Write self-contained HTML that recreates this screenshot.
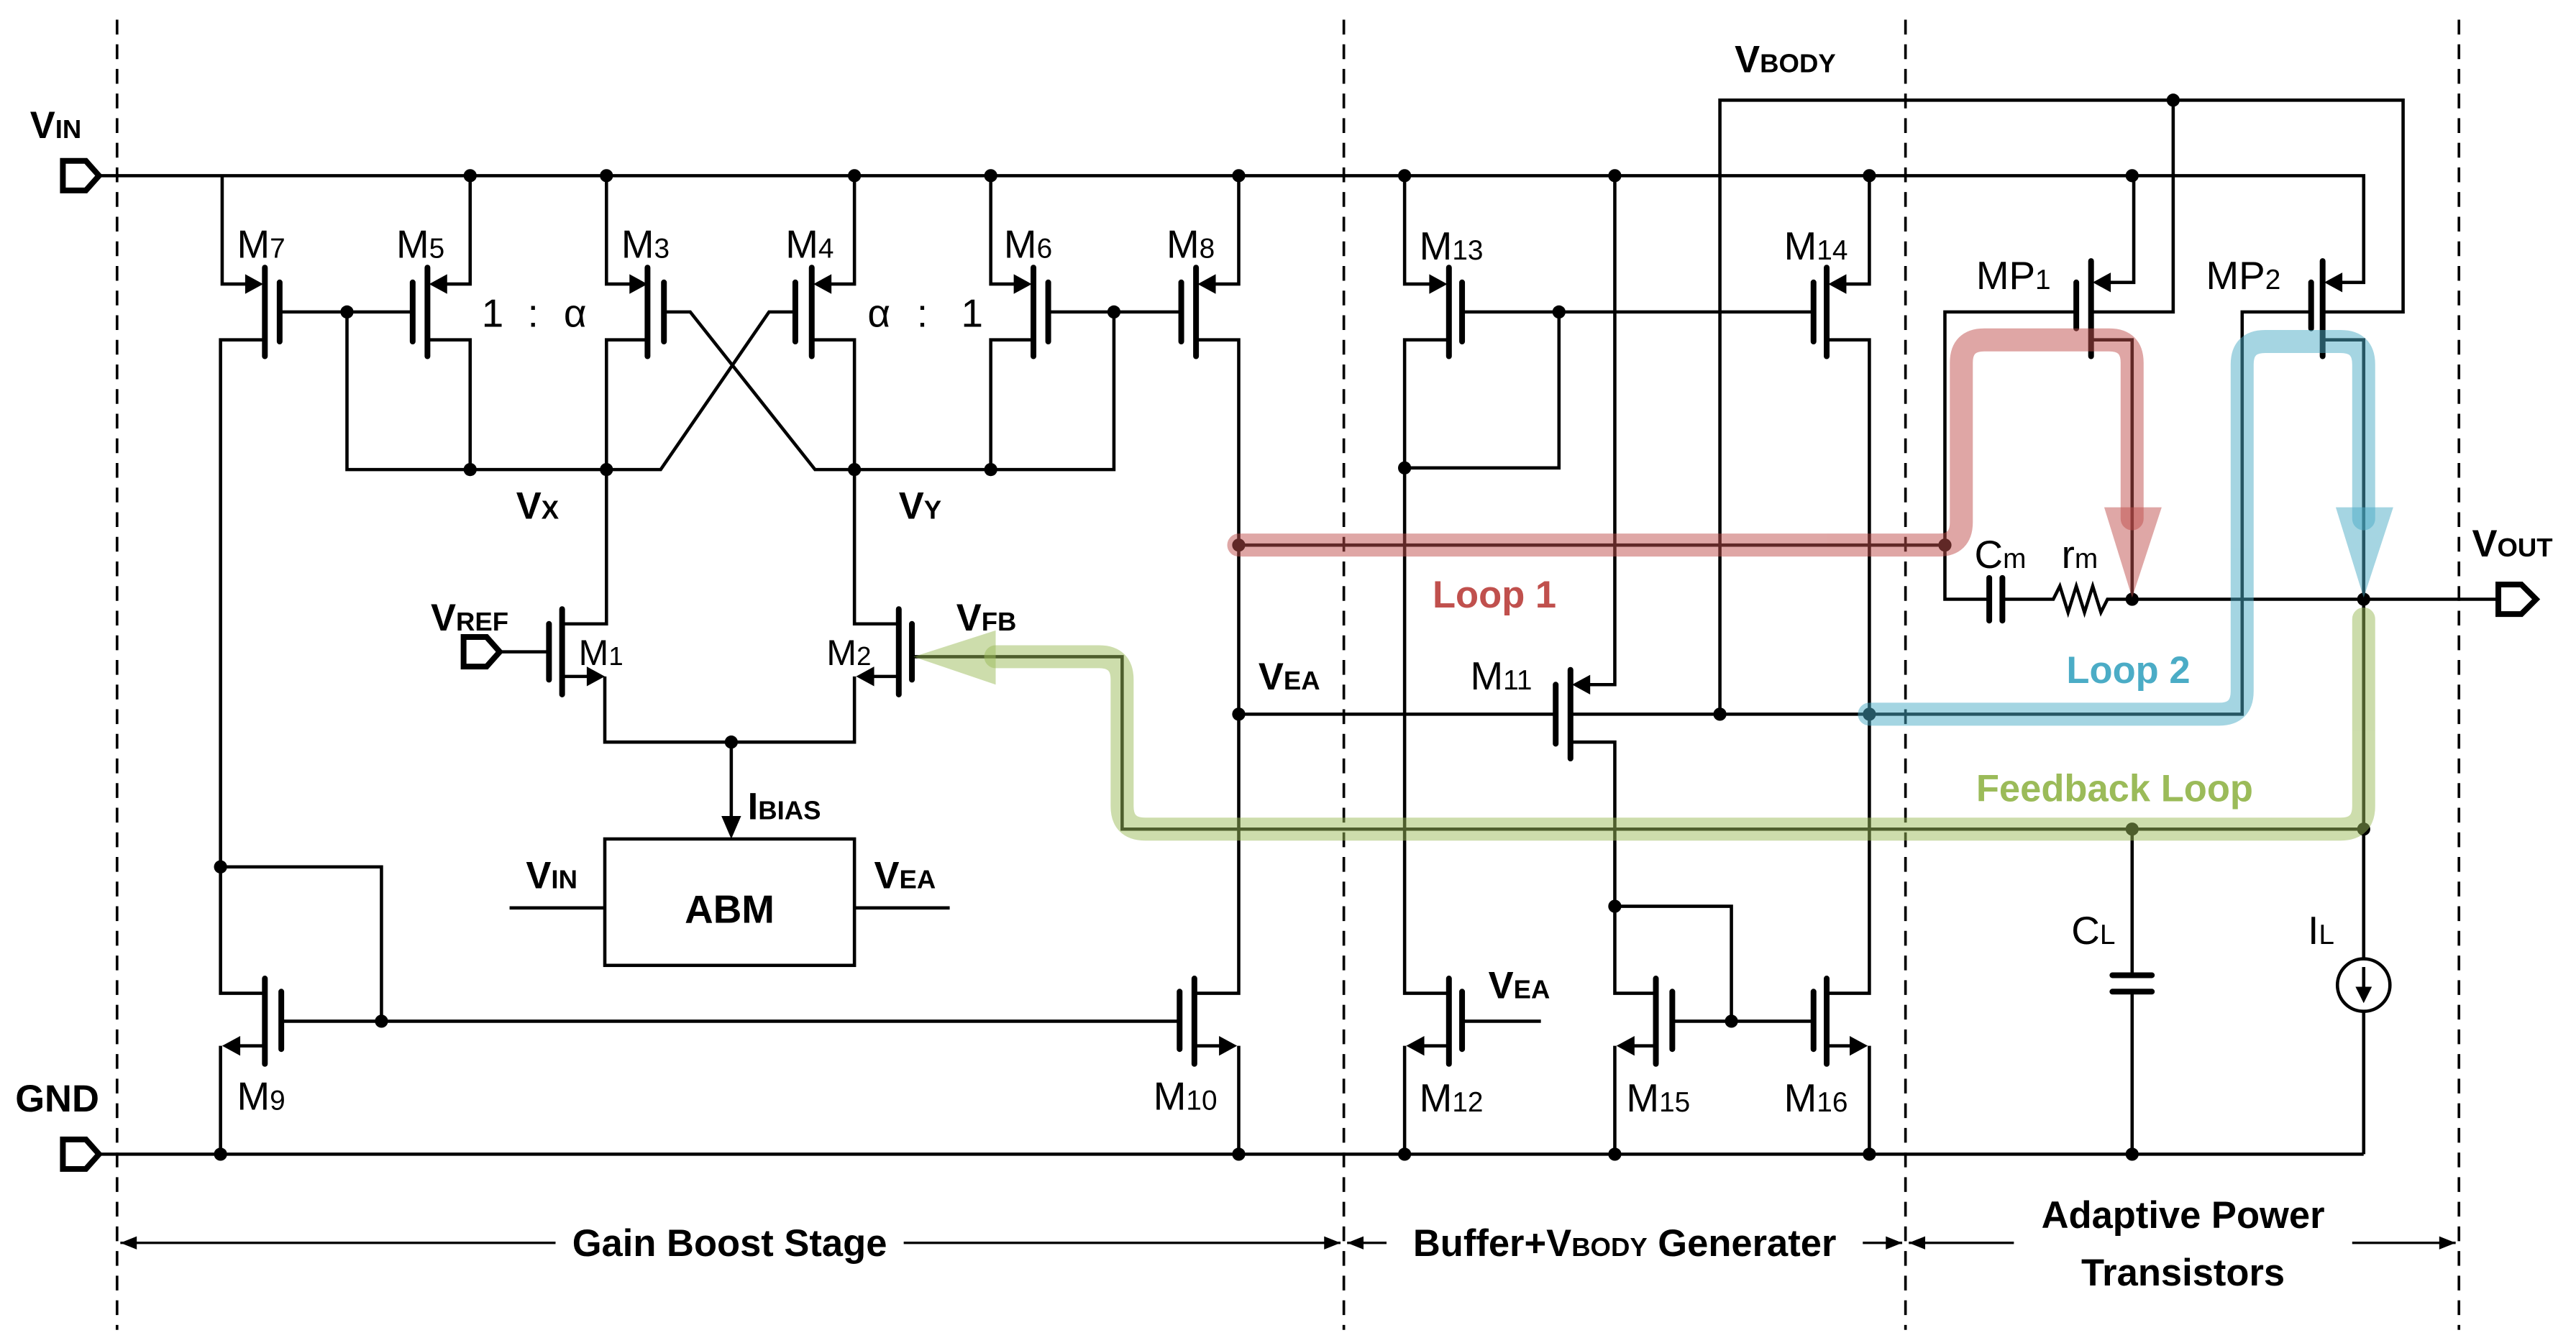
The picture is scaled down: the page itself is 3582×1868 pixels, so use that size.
<!DOCTYPE html>
<html><head><meta charset="utf-8"><style>
html,body{margin:0;padding:0;background:#fff;}
svg{display:block;}
text{font-family:"Liberation Sans",sans-serif;fill:#000;}
.b{font-weight:bold;}
</style></head><body>
<svg width="3582" height="1868" viewBox="0 0 1568 818" xmlns="http://www.w3.org/2000/svg">
<rect width="1568" height="818" fill="#fff"/>
<g stroke="#000" stroke-width="1.6" stroke-dasharray="9,6">
<path d="M71,12 V810 M818,12 V810 M1160,12 V810 M1497,12 V810"/>
</g>
<g fill="none" stroke="#000" stroke-width="2">
<path d="M60,107 H1439 V172 H1420"/>
<path d="M60,703 H1439"/>
<path d="M135,107 V173 H152"/><path d="M161,207 H134 V605 H161"/>
<path d="M286,107 V173 H270"/><path d="M260,207 H286 V286"/>
<path d="M170,190 H251"/><path d="M211,190 V286 H402 L468,190 H484"/>
<path d="M404,190 H420 L496,286 H678 V190"/>
<path d="M369,107 V173 H386"/><path d="M394,207 H369 V380 H342"/>
<path d="M520,107 V173 H503"/><path d="M494,207 H520 V380 H547"/>
<path d="M603,107 V173 H620"/><path d="M629,207 H603 V286"/>
<path d="M754,107 V173 H737"/><path d="M728,207 H754 V605 H727"/>
<path d="M638,190 H719"/>
<path d="M305,397 H334"/><path d="M342,412 H360"/><path d="M368,412 V452 H520 V412"/><path d="M529,412 H547"/>
<path d="M445,452 V500"/>
<rect x="368" y="511" width="152" height="77"/>
<path d="M310,553 H368 M520,553 H578"/>
<path d="M161,637 H143"/><path d="M134,637 V703"/>
<path d="M171,622 H718"/><path d="M232,622 V528 H134"/>
<path d="M727,637 H745"/><path d="M754,637 V703"/>
<path d="M855,107 V173 H873"/><path d="M882,207 H855 V605 H882"/>
<path d="M890,190 H1104"/><path d="M949,190 V285 H855"/>
<path d="M1138,107 V173 H1121"/><path d="M1112,207 H1138 V605 H1112"/>
<path d="M890,622 H938"/><path d="M882,637 H864"/><path d="M855,637 V703"/>
<path d="M983,107 V417 H965"/><path d="M754,435 H947"/><path d="M956,435 H1138"/>
<path d="M956,452 H983 V605 H1008"/><path d="M983,552 H1054 V622"/>
<path d="M1018,622 H1104"/><path d="M1008,637 H992"/><path d="M983,637 V703"/>
<path d="M1112,637 H1129"/><path d="M1138,637 V703"/>
<path d="M1047,435 V61 H1463 V190 H1414"/><path d="M1323,61 V190 H1273"/>
<path d="M1299,107 V172 H1282"/><path d="M1264,190 H1184 V365 H1211"/>
<path d="M1219,365 H1250 L1254,357 L1259,373 L1264,357 L1269,373 L1274,357 L1279,373 L1283,365 H1298"/>
<path d="M1273,207 H1298 V365"/>
<path d="M1414,207 H1439 V584"/><path d="M1439,616 V703"/>
<path d="M1407,190 H1365 V435 H1138"/>
<path d="M1298,365 H1520"/>
<path d="M754,332 H1184"/>
<path d="M1439,505 H683 V400 H555"/>
<path d="M1298,505 V594 M1298,604 V703"/>
<circle cx="1439" cy="600" r="16"/>
<path d="M1439,589 V604"/>
</g>
<g stroke="#000" stroke-width="3.5" stroke-linecap="round" fill="none">
<path d="M161,163 V217 M170,172 V208"/>
<path d="M260,163 V217 M251,172 V208"/>
<path d="M394,163 V217 M404,172 V208"/>
<path d="M494,163 V217 M484,172 V208"/>
<path d="M629,163 V217 M638,172 V208"/>
<path d="M728,163 V217 M719,172 V208"/>
<path d="M342,371 V423 M334,380 V414"/>
<path d="M547,371 V423 M555,380 V414"/>
<path d="M161,596 V648 M171,604 V639"/>
<path d="M727,596 V648 M718,604 V639"/>
<path d="M882,163 V217 M890,172 V208"/>
<path d="M1112,163 V217 M1104,172 V208"/>
<path d="M956,408 V462 M947,417 V453"/>
<path d="M882,596 V648 M890,604 V639"/>
<path d="M1008,596 V648 M1018,604 V639"/>
<path d="M1112,596 V648 M1104,604 V639"/>
<path d="M1273,159 V217 M1264,172 V200"/>
<path d="M1414,159 V217 M1407,172 V200"/>
<path d="M1211,352 V378 M1219,352 V378"/>
<path d="M1286,594 H1310 M1286,604 H1310"/>
</g>
<g fill="#000">
<polygon points="160,173 149,167 149,179"/>
<polygon points="261,173 272,167 272,179"/>
<polygon points="394,173 383,167 383,179"/>
<polygon points="495,173 506,167 506,179"/>
<polygon points="628,173 617,167 617,179"/>
<polygon points="729,173 740,167 740,179"/>
<polygon points="368,412 357,406 357,418"/>
<polygon points="521,412 532,406 532,418"/>
<polygon points="445,511 439,497 451,497"/>
<polygon points="135,637 146,631 146,643"/>
<polygon points="753,637 742,631 742,643"/>
<polygon points="881,173 870,167 870,179"/>
<polygon points="1113,173 1124,167 1124,179"/>
<polygon points="856,637 867,631 867,643"/>
<polygon points="957,417 968,411 968,423"/>
<polygon points="984,637 995,631 995,643"/>
<polygon points="1137,637 1126,631 1126,643"/>
<polygon points="1274,172 1285,166 1285,178"/>
<polygon points="1415,172 1426,166 1426,178"/>
<polygon points="1439,611 1434,601 1444,601"/>
</g>
<g fill="#fff" stroke="#000" stroke-width="3.5" stroke-linejoin="miter">
<path d="M38,98 H52 L60,107 L52,116 H38 Z"/>
<path d="M38,694 H52 L60,703 L52,712 H38 Z"/>
<path d="M282,388 H296 L304,397 L296,406 H282 Z"/>
<path d="M1521,356 H1535 L1544,365 L1535,374 H1521 Z"/>
</g>
<g fill="#000">
<circle cx="286" cy="107" r="4"/><circle cx="369" cy="107" r="4"/><circle cx="520" cy="107" r="4"/><circle cx="603" cy="107" r="4"/><circle cx="754" cy="107" r="4"/><circle cx="855" cy="107" r="4"/><circle cx="983" cy="107" r="4"/><circle cx="1138" cy="107" r="4"/><circle cx="1298" cy="107" r="4"/>
<circle cx="134" cy="703" r="4"/><circle cx="754" cy="703" r="4"/><circle cx="855" cy="703" r="4"/><circle cx="983" cy="703" r="4"/><circle cx="1138" cy="703" r="4"/><circle cx="1298" cy="703" r="4"/>
<circle cx="211" cy="190" r="4"/><circle cx="678" cy="190" r="4"/><circle cx="286" cy="286" r="4"/><circle cx="369" cy="286" r="4"/><circle cx="520" cy="286" r="4"/><circle cx="603" cy="286" r="4"/>
<circle cx="754" cy="332" r="4"/><circle cx="754" cy="435" r="4"/><circle cx="445" cy="452" r="4"/><circle cx="134" cy="528" r="4"/><circle cx="232" cy="622" r="4"/>
<circle cx="855" cy="285" r="4"/><circle cx="949" cy="190" r="4"/><circle cx="983" cy="552" r="4"/><circle cx="1054" cy="622" r="4"/><circle cx="1047" cy="435" r="4"/><circle cx="1138" cy="435" r="4"/>
<circle cx="1323" cy="61" r="4"/><circle cx="1184" cy="332" r="4"/><circle cx="1298" cy="365" r="4"/><circle cx="1439" cy="365" r="4"/><circle cx="1298" cy="505" r="4"/><circle cx="1439" cy="505" r="4"/>
</g>
<g fill="none" stroke-width="14" stroke-linecap="round" stroke-linejoin="round" opacity="0.5">
<path stroke="#c0504d" d="M754,332 H1180 Q1194,332 1194,318 V221 Q1194,207 1208,207 H1284 Q1298,207 1298,221 V316"/>
<path stroke="#4bacc6" d="M1138,435 H1351 Q1365,435 1365,421 V222 Q1365,208 1379,208 H1425 Q1439,208 1439,222 V316"/>
<path stroke="#9bbb59" d="M1439,377 V491 Q1439,505 1425,505 H697 Q683,505 683,491 V414 Q683,400 669,400 H606"/>
</g>
<g opacity="0.5">
<polygon fill="#c0504d" points="1281,309 1316,309 1298,364"/>
<polygon fill="#4bacc6" points="1422,309 1457,309 1439,364"/>
<polygon fill="#9bbb59" points="606,384 606,417 556,400"/>
</g>
<g font-size="24">
<text x="144" y="157">M<tspan font-size="17">7</tspan></text>
<text x="241" y="157">M<tspan font-size="17">5</tspan></text>
<text x="378" y="157">M<tspan font-size="17">3</tspan></text>
<text x="478" y="157">M<tspan font-size="17">4</tspan></text>
<text x="611" y="157">M<tspan font-size="17">6</tspan></text>
<text x="710" y="157">M<tspan font-size="17">8</tspan></text>
<text x="293" y="199">1</text><text x="321" y="199">:</text><text x="343" y="199">α</text>
<text x="528" y="199">α</text><text x="558" y="199">:</text><text x="585" y="199">1</text>
<text x="352" y="405" font-size="22">M<tspan font-size="16">1</tspan></text>
<text x="503" y="405" font-size="22">M<tspan font-size="16">2</tspan></text>
<text x="144" y="676">M<tspan font-size="17">9</tspan></text>
<text x="702" y="676">M<tspan font-size="17">10</tspan></text>
<text x="864" y="158">M<tspan font-size="17">13</tspan></text>
<text x="1086" y="158">M<tspan font-size="17">14</tspan></text>
<text x="895" y="420">M<tspan font-size="17">11</tspan></text>
<text x="864" y="677">M<tspan font-size="17">12</tspan></text>
<text x="990" y="677">M<tspan font-size="17">15</tspan></text>
<text x="1086" y="677">M<tspan font-size="17">16</tspan></text>
<text x="1203" y="176">MP<tspan font-size="17">1</tspan></text>
<text x="1343" y="176">MP<tspan font-size="17">2</tspan></text>
<text x="1202" y="346">C<tspan font-size="17">m</tspan></text>
<text x="1255" y="346">r<tspan font-size="17">m</tspan></text>
<text x="1261" y="575">C<tspan font-size="17">L</tspan></text>
<text x="1405" y="575">I<tspan font-size="17">L</tspan></text>
</g>
<g class="b" font-size="23">
<text x="18" y="84" class="b">V<tspan font-size="16">IN</tspan></text>
<text x="9" y="677" class="b">GND</text>
<text x="314" y="316" class="b">V<tspan font-size="16">X</tspan></text>
<text x="547" y="316" class="b">V<tspan font-size="16">Y</tspan></text>
<text x="262" y="384" class="b">V<tspan font-size="16">REF</tspan></text>
<text x="582" y="384" class="b">V<tspan font-size="16">FB</tspan></text>
<text x="455" y="499" class="b">I<tspan font-size="16">BIAS</tspan></text>
<text x="320" y="541" class="b">V<tspan font-size="16">IN</tspan></text>
<text x="532" y="541" class="b">V<tspan font-size="16">EA</tspan></text>
<text x="444" y="562" class="b" text-anchor="middle" font-size="24">ABM</text>
<text x="766" y="420" class="b">V<tspan font-size="16">EA</tspan></text>
<text x="906" y="608" class="b">V<tspan font-size="16">EA</tspan></text>
<text x="1056" y="44" class="b">V<tspan font-size="16">BODY</tspan></text>
<text x="1505" y="339" class="b">V<tspan font-size="16">OUT</tspan></text>
<text x="872" y="370" class="b" style="fill:#c0504d" font-size="23">Loop 1</text>
<text x="1258" y="416" class="b" style="fill:#4bacc6" font-size="23">Loop 2</text>
<text x="1203" y="488" class="b" style="fill:#9bbb59" font-size="23">Feedback Loop</text>
</g>
<g stroke="#000" stroke-width="1.5">
<path d="M73,757 H816 M820,757 H1158 M1162,757 H1495"/>
</g>
<g fill="#000">
<polygon points="73,757 83,753 83,761"/><polygon points="816,757 806,753 806,761"/>
<polygon points="820,757 830,753 830,761"/><polygon points="1158,757 1148,753 1148,761"/>
<polygon points="1162,757 1172,753 1172,761"/><polygon points="1495,757 1485,753 1485,761"/>
</g>
<rect x="338" y="742" width="212" height="30" fill="#fff"/>
<rect x="844" y="742" width="290" height="30" fill="#fff"/>
<rect x="1226" y="724" width="206" height="64" fill="#fff"/>
<g class="b" font-size="23" text-anchor="middle">
<text x="444" y="765" class="b">Gain Boost Stage</text>
<text x="989" y="765" class="b">Buffer+V<tspan font-size="16">BODY</tspan> Generater</text>
<text x="1329" y="748" class="b">Adaptive Power</text>
<text x="1329" y="783" class="b">Transistors</text>
</g>
</svg>
</body></html>
